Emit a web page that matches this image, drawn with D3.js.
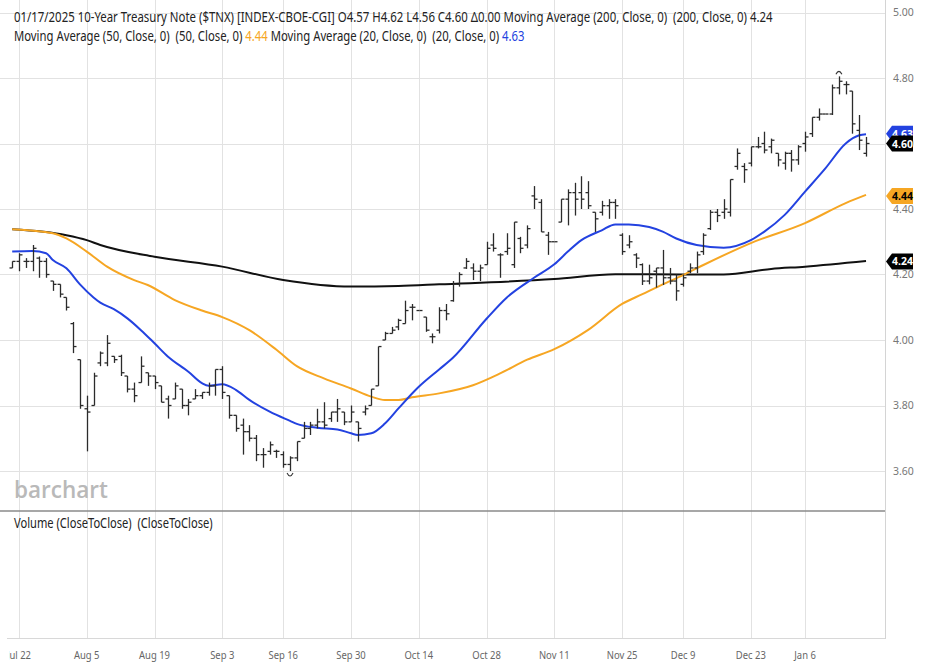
<!DOCTYPE html>
<html><head><meta charset="utf-8">
<script src="https://cdn.jsdelivr.net/npm/d3@7"></script>
<style>html,body{margin:0;padding:0;background:#fff;overflow:hidden}svg{display:block}text{white-space:pre}</style>
</head><body>
<svg id="c" width="934" height="668"></svg>
<script>
// ---------- data ----------
const startDate = "2024-07-19", endDate = "2025-01-17";
const holidays = ["2024-09-02","2024-11-28","2024-12-25","2025-01-01"];

const openP = [
4.22,4.24,4.24,4.24,4.25,4.24,4.18,4.17,4.13,4.05,
3.94,3.79,3.80,3.93,3.93,3.95,3.95,3.89,3.85,3.87,
3.90,3.89,3.86,3.82,3.82,3.85,3.80,3.82,3.83,3.84,
3.86,3.91,3.83,3.77,3.74,3.72,3.70,3.65,3.66,3.66,
3.65,3.62,3.64,3.70,3.73,3.74,3.75,3.76,3.78,3.78,
3.75,3.75,3.78,3.80,3.86,4.00,4.02,4.04,4.05,4.10,
4.09,4.07,4.01,4.03,4.09,4.12,4.17,4.22,4.22,4.21,
4.23,4.29,4.26,4.27,4.23,4.31,4.29,4.44,4.42,4.32,
4.30,4.36,4.43,4.45,4.45,4.45,4.39,4.39,4.41,4.42,
4.32,4.29,4.26,4.23,4.18,4.21,4.22,4.19,4.18,4.17,
4.21,4.22,4.27,4.34,4.39,4.39,4.39,4.53,4.53,4.54,
4.59,4.60,4.59,4.57,4.54,4.57,4.55,4.60,4.63,4.68,
4.69,4.69,4.77,4.78,4.76,4.64,4.57];
const highP = [
4.24,4.265,4.25,4.29,4.255,4.25,4.18,4.17,4.13,4.055,
3.94,3.83,3.90,3.965,4.015,3.95,3.955,3.89,3.87,3.95,
3.90,3.89,3.86,3.83,3.87,3.85,3.82,3.85,3.84,3.87,
3.91,3.92,3.83,3.77,3.76,3.74,3.71,3.67,3.69,3.665,
3.66,3.645,3.69,3.75,3.75,3.79,3.81,3.78,3.82,3.78,
3.80,3.75,3.80,3.85,3.98,4.025,4.04,4.065,4.12,4.11,
4.095,4.07,4.02,4.10,4.11,4.18,4.207,4.25,4.234,4.23,
4.30,4.326,4.265,4.326,4.36,4.315,4.35,4.47,4.43,4.33,
4.305,4.43,4.46,4.48,4.50,4.485,4.39,4.425,4.43,4.43,
4.326,4.32,4.265,4.234,4.23,4.22,4.275,4.22,4.20,4.20,
4.234,4.27,4.326,4.397,4.40,4.43,4.49,4.585,4.54,4.59,
4.62,4.636,4.615,4.57,4.575,4.58,4.595,4.636,4.68,4.707,
4.695,4.78,4.805,4.79,4.76,4.687,4.62];
const lowP = [
4.22,4.21,4.22,4.21,4.19,4.19,4.15,4.13,4.09,3.96,
3.79,3.66,3.80,3.92,3.92,3.93,3.89,3.84,3.81,3.87,
3.86,3.85,3.81,3.76,3.82,3.79,3.77,3.82,3.82,3.83,
3.83,3.82,3.76,3.72,3.65,3.69,3.63,3.61,3.65,3.64,
3.61,3.60,3.63,3.70,3.71,3.73,3.73,3.75,3.75,3.74,
3.75,3.69,3.77,3.80,3.86,4.00,4.02,4.03,4.05,4.06,
4.09,4.025,3.99,4.02,4.06,4.117,4.163,4.217,4.183,4.18,
4.23,4.27,4.19,4.26,4.22,4.265,4.28,4.40,4.33,4.26,
4.30,4.36,4.35,4.38,4.40,4.40,4.33,4.38,4.37,4.37,
4.26,4.28,4.22,4.168,4.17,4.16,4.168,4.17,4.12,4.163,
4.204,4.204,4.26,4.336,4.36,4.37,4.377,4.52,4.48,4.53,
4.585,4.57,4.57,4.53,4.52,4.514,4.535,4.575,4.62,4.67,
4.69,4.687,4.75,4.75,4.63,4.58,4.56];
const closeP = [
4.24,4.26,4.24,4.28,4.24,4.20,4.17,4.14,4.10,3.98,
3.80,3.78,3.89,3.96,3.99,3.94,3.90,3.85,3.83,3.92,
3.89,3.87,3.81,3.80,3.86,3.80,3.81,3.83,3.84,3.86,
3.91,3.84,3.77,3.73,3.72,3.70,3.65,3.65,3.68,3.66,
3.62,3.64,3.69,3.73,3.74,3.75,3.74,3.78,3.79,3.75,
3.78,3.73,3.79,3.85,3.98,4.02,4.03,4.06,4.09,4.10,
4.09,4.03,4.01,4.09,4.08,4.17,4.20,4.24,4.21,4.22,
4.28,4.28,4.26,4.28,4.36,4.28,4.34,4.43,4.33,4.30,
4.30,4.43,4.45,4.43,4.43,4.41,4.37,4.41,4.42,4.41,
4.27,4.30,4.25,4.18,4.19,4.22,4.19,4.18,4.15,4.19,
4.22,4.26,4.32,4.39,4.38,4.40,4.49,4.57,4.52,4.59,
4.59,4.58,4.61,4.55,4.57,4.55,4.59,4.62,4.68,4.69,
4.69,4.77,4.79,4.78,4.66,4.61,4.60];

// moving averages, read at bar indices
const ma200Idx = [0,8,11,13,21,31,40,50,57,63,80,89,99,105,112,117,126];
const ma200Val = [4.338,4.32,4.305,4.29,4.254,4.224,4.183,4.163,4.165,4.17,4.186,4.201,4.20,4.20,4.217,4.224,4.241];
const ma50Idx = [0,6,8,11,14,18,20,24,28,31,35,39,42,46,50,53,55,57,59,63,68,72,76,80,85,90,93,96,99,102,109,117,123,126];
const ma50Val = [4.338,4.326,4.31,4.27,4.224,4.183,4.168,4.122,4.09,4.07,4.03,3.97,3.92,3.883,3.852,3.827,3.817,3.817,3.825,3.837,3.862,3.898,3.94,3.972,4.031,4.11,4.14,4.17,4.198,4.229,4.296,4.357,4.418,4.443];
const ma20Idx = [0,3,5,6,8,10,12,13,15,17,19,21,23,26,28,29,31,33,35,38,41,42,45,48,50,51,53,55,57,60,63,65,70,73,77,80,82,84,87,89,91,94,96,98,101,105,109,111,114,117,120,123,125,126];
const ma20Val = [4.27,4.272,4.265,4.244,4.219,4.17,4.13,4.114,4.094,4.066,4.03,3.99,3.949,3.903,3.868,3.86,3.865,3.848,3.817,3.781,3.753,3.744,3.732,3.727,3.715,3.71,3.715,3.745,3.791,3.857,3.91,3.945,4.065,4.13,4.19,4.231,4.27,4.305,4.335,4.353,4.353,4.345,4.331,4.31,4.29,4.282,4.305,4.331,4.382,4.453,4.524,4.60,4.625,4.628];

const yTicks = [3.60,3.80,4.00,4.20,4.40,4.60,4.80,5.00];
const xTickDates = ["2024-07-22","2024-08-05","2024-08-19","2024-09-03","2024-09-16","2024-09-30","2024-10-14","2024-10-28","2024-11-11","2024-11-25","2024-12-09","2024-12-23","2025-01-06"];
const xTickLabels = ["Jul 22","Aug 5","Aug 19","Sep 3","Sep 16","Sep 30","Oct 14","Oct 28","Nov 11","Nov 25","Dec 9","Dec 23","Jan 6"];

const flagValues = [4.63, 4.60, 4.44, 4.24];
const flagFill = ["#2342e0", "#000000", "#f6a623", "#000000"];
const flagText = ["#ffffff", "#ffffff", "#000000", "#ffffff"];

const header1 = "01/17/2025 10-Year Treasury Note ($TNX) [INDEX-CBOE-CGI] O4.57 H4.62 L4.56 C4.60 \u03940.00 Moving Average (200, Close, 0)  (200, Close, 0) 4.24";
const header2Parts = [["Moving Average (50, Close, 0)  (50, Close, 0) ", "#222"], ["4.44", "#f6a623"], [" Moving Average (20, Close, 0)  (20, Close, 0) ", "#222"], ["4.63", "#2342e0"]];
const volumeTitle = "Volume (CloseToClose)  (CloseToClose)";

// ---------- layout ----------
const W = 934, H = 668;
const plotRight = 885, paneBottom = 511, axisY = 638;
const svg = d3.select("#c");
const fmt = d3.utcFormat("%Y-%m-%d");
const stop = new Date(Date.parse(endDate + "T00:00Z") + 86400000);
const dates = d3.utcDays(new Date(startDate + "T00:00Z"), stop)
  .filter(d => d.getUTCDay() % 6 !== 0 && !holidays.includes(fmt(d))).map(fmt);

const x = d3.scaleLinear().domain([-1.8, 128.8]).range([0, plotRight]);
const y = d3.scaleLinear().domain([3.60, 5.00]).range([471, 12.5]);

const grid = svg.append("g");
// vertical gridlines
xTickDates.forEach(d => {
  const xi = Math.round(x(dates.indexOf(d))) + 0.5;
  grid.append("line").attr("x1", xi).attr("x2", xi).attr("y1", 0).attr("y2", axisY)
    .attr("stroke", "#e2e2e2").attr("stroke-width", 1);
});
// horizontal gridlines
yTicks.forEach(v => {
  const yi = Math.round(y(v)) + 0.5;
  grid.append("line").attr("x1", 0).attr("x2", plotRight).attr("y1", yi).attr("y2", yi)
    .attr("stroke", "#e2e2e2").attr("stroke-width", 1);
});
// axis frame
svg.append("line").attr("x1", plotRight + 0.5).attr("x2", plotRight + 0.5).attr("y1", 0).attr("y2", axisY + 1)
  .attr("stroke", "#d4d4d4");
svg.append("line").attr("x1", 7).attr("x2", plotRight).attr("y1", axisY + 0.5).attr("y2", axisY + 0.5)
  .attr("stroke", "#d8d8d8");
svg.append("line").attr("x1", 0).attr("x2", plotRight).attr("y1", paneBottom).attr("y2", paneBottom)
  .attr("stroke", "#8a8a8a").attr("stroke-width", 1.5);

// right axis labels
const yAxis = d3.axisRight(y).tickValues(yTicks).tickFormat(d3.format(".2f")).tickSize(0).tickPadding(8);
const ya = svg.append("g").attr("transform", `translate(${plotRight},0)`).call(yAxis);
ya.select(".domain").remove();
ya.selectAll("text").attr("fill", "#777").attr("font-family", "Noto Sans").attr("font-size", 10.5);

// bottom axis labels
svg.append("clipPath").attr("id", "xclip").append("rect").attr("x", 9).attr("y", 640).attr("width", 925).attr("height", 28);
const xa = svg.append("g").attr("clip-path", "url(#xclip)");
xTickDates.forEach((d, k) => {
  xa.append("text").attr("x", x(dates.indexOf(d))).attr("y", 659).attr("text-anchor", "middle")
    .attr("font-family", "Noto Sans").attr("font-size", 10.5).attr("fill", "#666")
    .attr("transform-origin", `${x(dates.indexOf(d))} 659`).attr("transform", "scale(0.9,1)")
    .text(xTickLabels[k]);
});

// watermark
const wm = svg.append("text").attr("x", 0).attr("y", 0).attr("font-family", "Open Sans")
  .attr("font-weight", 600).attr("font-size", 23).attr("fill", "#b9b9b9").text("barchart");
fitText(wm, 14, 498, 94);

// moving averages
function maLine(idx, val, color) {
  const pts = idx.map((i, k) => [x(i), y(val[k])]);
  svg.append("path").attr("d", d3.line().curve(d3.curveMonotoneX)(pts))
    .attr("fill", "none").attr("stroke", color).attr("stroke-width", 2);
}
maLine(ma200Idx, ma200Val, "#111111");
maLine(ma50Idx, ma50Val, "#f6a623");
maLine(ma20Idx, ma20Val, "#2342e0");

// OHLC bars
const bars = svg.append("g").attr("stroke", "#2b2b2b").attr("stroke-width", 1.3).attr("fill", "none");
dates.forEach((d, i) => {
  const xi = Math.round(x(i)) + 0.5;
  if (highP[i] - lowP[i] > 0.006)
    bars.append("line").attr("x1", xi).attr("x2", xi).attr("y1", y(highP[i])).attr("y2", y(lowP[i]));
  bars.append("line").attr("x1", xi - 3).attr("x2", xi).attr("y1", y(openP[i])).attr("y2", y(openP[i]));
  bars.append("line").attr("x1", xi).attr("x2", xi + 3).attr("y1", y(closeP[i])).attr("y2", y(closeP[i]));
});
// high / low markers
const hiI = d3.maxIndex(highP), loI = d3.minIndex(lowP);
svg.append("path").attr("d", `M${x(hiI)-3},${y(highP[hiI])-2} Q${x(hiI)},${y(highP[hiI])-8} ${x(hiI)+3},${y(highP[hiI])-2}`)
  .attr("fill", "none").attr("stroke", "#333").attr("stroke-width", 1.1);
svg.append("path").attr("d", `M${x(loI)-3},${y(lowP[loI])+2} Q${x(loI)},${y(lowP[loI])+8} ${x(loI)+3},${y(lowP[loI])+2}`)
  .attr("fill", "none").attr("stroke", "#333").attr("stroke-width", 1.1);

// value flags
flagValues.forEach((v, k) => {
  const yc = y(v), x0 = plotRight + 1;
  svg.append("path").attr("d", `M${x0},${yc} L${x0+6},${yc-8} L${x0+27},${yc-8} L${x0+27},${yc+8} L${x0+6},${yc+8} Z`)
    .attr("fill", flagFill[k]);
  svg.append("text").attr("x", x0 + 16.5).attr("y", yc + 4).attr("text-anchor", "middle")
    .attr("font-family", "Noto Sans").attr("font-weight", 700).attr("font-size", 10.5)
    .attr("fill", flagText[k]).text(v.toFixed(2));
});

// header texts
const h1 = svg.append("text").attr("font-family", "Noto Sans").attr("font-size", 14).attr("fill", "#222").text(header1);
fitText(h1, 14, 22, 759);
const h2 = svg.append("text").attr("font-family", "Noto Sans").attr("font-size", 14);
header2Parts.forEach(p => h2.append("tspan").attr("fill", p[1]).text(p[0]));
fitText(h2, 14, 40.5, 511);
const vt = svg.append("text").attr("font-family", "Noto Sans").attr("font-size", 14).attr("fill", "#222").text(volumeTitle);
fitText(vt, 14, 528, 199);

function fitText(sel, tx, ty, targetW) {
  const w = sel.node().getComputedTextLength();
  sel.attr("x", 0).attr("y", 0).attr("transform", `translate(${tx},${ty}) scale(${targetW / w},1)`);
}
</script>
</body></html>
